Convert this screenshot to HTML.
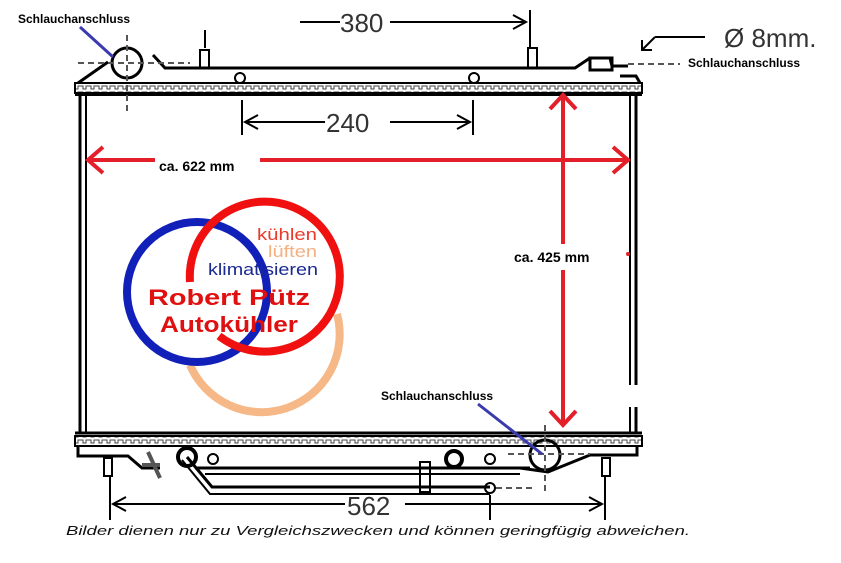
<!DOCTYPE html>
<html><head><meta charset="utf-8"><style>
html,body{margin:0;padding:0;background:#fff;}
svg{display:block;}
</style></head><body>
<svg width="841" height="563" viewBox="0 0 841 563" xmlns="http://www.w3.org/2000/svg">
<defs>
<pattern id="wave" x="0" y="0" width="8" height="6" patternUnits="userSpaceOnUse">
<path d="M0 2 h3 v3 h3 v-3 h2" fill="none" stroke="#444" stroke-width="1"/>
</pattern>
</defs>
<rect width="841" height="563" fill="#fff"/>
<g stroke="#000" fill="none">
<path d="M78 83 L108 62 M153 55 L165 68 L575 68 L590 58 L610 58 L612 66 L628 66 M620 76 L636 76 L640 83" stroke-width="3"/>
<path d="M590 58 L612 58 L612 70 L590 70 Z" stroke-width="3"/>
<rect x="75" y="83" width="567" height="10" stroke-width="2" fill="url(#wave)"/>
<line x1="75" y1="95" x2="642" y2="95" stroke-width="2"/>
<circle cx="127" cy="63" r="15" stroke-width="3"/>
<rect x="200" y="50" width="9" height="18" stroke-width="2"/>
<rect x="528" y="48" width="9" height="20" stroke-width="2"/>
<circle cx="240" cy="78" r="5" stroke-width="2"/>
<circle cx="474" cy="78" r="5" stroke-width="2"/>
<line x1="80" y1="93" x2="80" y2="433" stroke-width="3"/>
<line x1="86" y1="93" x2="86" y2="433" stroke-width="2"/>
<line x1="630" y1="93" x2="630" y2="433" stroke-width="2"/>
<line x1="636" y1="93" x2="636" y2="433" stroke-width="3"/>
<line x1="75" y1="433" x2="642" y2="433" stroke-width="3"/>
<rect x="75" y="436" width="567" height="10" stroke-width="2" fill="url(#wave)"/>
<path d="M78 446 L78 456 L128 456 L142 468 L160 468 M520 468 L548 472 L590 455 L637 455 L637 446" stroke-width="3"/>
<rect x="104" y="458" width="8" height="18" stroke-width="2"/>
<rect x="602" y="458" width="8" height="18" stroke-width="2"/>
<circle cx="545" cy="455" r="15" stroke-width="3"/>
<circle cx="187" cy="457" r="9" stroke-width="4"/>
<circle cx="213" cy="459" r="5" stroke-width="2"/>
<circle cx="454" cy="459" r="8" stroke-width="4"/>
<circle cx="490" cy="459" r="5" stroke-width="2"/>
<path d="M187 457 L212 487 L490 487 M195 468 L205 468 L530 468" stroke-width="3"/>
<path d="M182 460 L210 494 L490 494 M205 474 L520 474" stroke-width="2"/>
<rect x="420" y="462" width="10" height="30" stroke-width="2"/>
<circle cx="490" cy="488" r="5" stroke-width="2"/>
<path d="M148 452 L160 478 M142 465 L160 465" stroke-width="4" stroke="#555"/>
</g>
<g stroke="#555" stroke-width="2" stroke-dasharray="6 4" fill="none">
<line x1="78" y1="63" x2="190" y2="63"/>
<line x1="127" y1="35" x2="127" y2="115"/>
<line x1="628" y1="64" x2="680" y2="64"/>
<line x1="508" y1="454" x2="590" y2="454"/>
<line x1="545" y1="425" x2="545" y2="495"/>
<line x1="496" y1="488" x2="535" y2="488"/>
</g>
<g stroke="#000" stroke-width="2" fill="none">
<line x1="300" y1="22" x2="340" y2="22"/>
<line x1="390" y1="22" x2="526" y2="22"/>
<path d="M513 15 L526 22 L513 29"/>
<line x1="530" y1="10" x2="530" y2="48"/>
<line x1="205" y1="30" x2="205" y2="48"/>
<line x1="242" y1="100" x2="242" y2="135"/>
<line x1="473" y1="100" x2="473" y2="135"/>
<line x1="245" y1="122" x2="325" y2="122"/>
<line x1="390" y1="122" x2="470" y2="122"/>
<path d="M258 115 L245 122 L258 129 M457 115 L470 122 L457 129"/>
<line x1="110" y1="476" x2="110" y2="520"/>
<line x1="605" y1="476" x2="605" y2="520"/>
<line x1="490" y1="495" x2="490" y2="520"/>
<line x1="113" y1="504" x2="345" y2="504"/>
<line x1="405" y1="504" x2="602" y2="504"/>
<path d="M126 497 L113 504 L126 511 M589 497 L602 504 L589 511"/>
<line x1="705" y1="37" x2="655" y2="37"/>
<path d="M655 37 L642 50 M642 40 L642 50 L652 50"/>
</g>
<g font-family="Liberation Sans, sans-serif" fill="#333" font-size="26">
<text x="340" y="32">380</text>
<text x="326" y="132">240</text>
<text x="347" y="515">562</text>
<text x="724" y="47">Ø 8mm.</text>
</g>
<g stroke="#e3202a" stroke-width="4" fill="none">
<line x1="88" y1="160" x2="626" y2="160"/>
<path d="M103 147 L88 160 L103 173 M613 147 L628 160 L613 173"/>
<line x1="563" y1="95" x2="563" y2="425"/>
<path d="M550 109 L563 95 L576 109 M550 411 L563 425 L576 411"/>
</g>
<rect x="155" y="153" width="105" height="24" fill="#fff"/>
<rect x="505" y="244" width="105" height="26" fill="#fff"/>
<circle cx="628" cy="254" r="2" fill="#e3202a"/>
<g font-family="Liberation Sans, sans-serif" font-weight="bold" font-size="14" fill="#000">
<text x="159" y="171">ca.  622 mm</text>
<text x="514" y="262">ca. 425 mm</text>
<text x="18" y="23" font-size="12">Schlauchanschluss</text>
<text x="688" y="67" font-size="12">Schlauchanschluss</text>
<text x="381" y="400" font-size="12">Schlauchanschluss</text>
</g>
<g stroke="#3b3bb0" stroke-width="3">
<line x1="80" y1="27" x2="113" y2="57"/>
<line x1="478" y1="404" x2="542" y2="454"/>
</g>
<g fill="none" stroke-width="8">
<path d="M337 314 A78 78 0 0 1 190 365" stroke="#f7b887"/>
<circle cx="197" cy="292" r="70" stroke="#1020b8"/>
<path d="M190 282 A75 75 0 1 1 219 336" stroke="#f01010"/>
</g>
<g font-family="Liberation Sans, sans-serif">
<text x="257" y="240" font-size="17" fill="#e83a2a" textLength="60" lengthAdjust="spacingAndGlyphs">kühlen</text>
<text x="268" y="257" font-size="17" fill="#f5b080" textLength="49" lengthAdjust="spacingAndGlyphs">lüften</text>
<text x="208" y="275" font-size="17" fill="#1a2a90" textLength="110" lengthAdjust="spacingAndGlyphs">klimatisieren</text>
<text x="148" y="305" font-size="22" font-weight="bold" fill="#e01010" textLength="162" lengthAdjust="spacingAndGlyphs">Robert Pütz</text>
<text x="160" y="332" font-size="22" font-weight="bold" fill="#e01010" textLength="138" lengthAdjust="spacingAndGlyphs">Autokühler</text>
</g>
<rect x="590" y="385" width="75" height="22" fill="#fff"/>
<text x="66" y="535" font-family="Liberation Sans, sans-serif" font-style="italic" font-size="13" fill="#111" textLength="624" lengthAdjust="spacingAndGlyphs">Bilder dienen nur zu Vergleichszwecken und können geringfügig abweichen.</text>
</svg>
</body></html>
